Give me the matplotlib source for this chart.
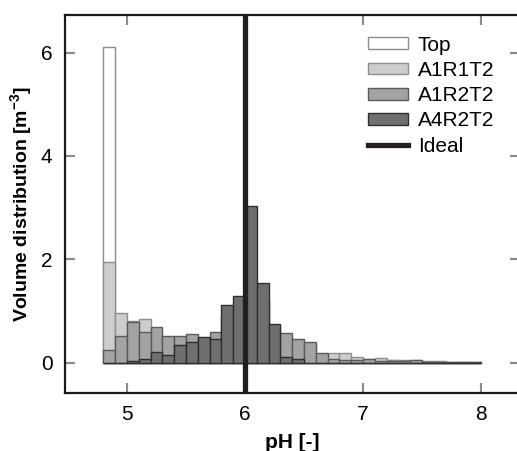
import numpy as np
import matplotlib
matplotlib.use('Agg')
import matplotlib.pyplot as plt

plt.rcParams['font.family'] = ['Liberation Sans', 'DejaVu Sans']
plt.rcParams['mathtext.fontset'] = 'custom'
plt.rcParams['mathtext.bf'] = 'Liberation Sans:bold'
plt.rcParams['mathtext.rm'] = 'Liberation Sans'

# histogram bins (pH), width 0.1 from 4.8 to 8.0
bin_start = 4.8
bin_width = 0.1
n_bins = 32

# volume distribution per bin
top = [6.11, 0.30, 0.22, 0.18, 0.15, 0.12, 0.12, 0.12, 0.12, 0.14, 0.16, 0.20,
       0.25, 0.18, 0.14, 0.12, 0.10, 0.08, 0.07, 0.06, 0.06, 0.06, 0.05, 0.05,
       0.05, 0.05, 0.04, 0.03, 0.02, 0.01, 0.01, 0.01]
a1r1t2 = [1.94, 0.96, 0.81, 0.85, 0.60, 0.45, 0.45, 0.45, 0.40, 0.50, 0.60, 0.70,
          0.90, 0.80, 0.60, 0.50, 0.40, 0.35, 0.15, 0.18, 0.19, 0.11, 0.06, 0.09,
          0.04, 0.03, 0.03, 0.01, 0.005, 0.005, 0.005, 0.005]
a1r2t2 = [0.24, 0.51, 0.78, 0.60, 0.69, 0.52, 0.51, 0.55, 0.45, 0.60, 0.90, 1.00,
          1.50, 1.20, 0.70, 0.58, 0.45, 0.40, 0.18, 0.07, 0.05, 0.04, 0.07, 0.03,
          0.02, 0.02, 0.04, 0.01, 0.005, 0.005, 0.005, 0.005]
a4r2t2 = [0.0, 0.0, 0.03, 0.07, 0.20, 0.15, 0.34, 0.39, 0.49, 0.46, 1.12, 1.28,
          3.03, 1.54, 0.75, 0.10, 0.07, 0.0, 0.0, 0.0, 0.0, 0.0, 0.0, 0.0,
          0.0, 0.0, 0.0, 0.0, 0.0, 0.0, 0.0, 0.0]
ideal_ph = 6.0

series = [('Top', top, 'white', '#8c8c8c'),
          ('A1R1T2', a1r1t2, '#cdcdcd', '#8e8e8e'),
          ('A1R2T2', a1r2t2, '#a3a3a3', '#5a5a5a'),
          ('A4R2T2', a4r2t2, '#6f6f6f', '#2e2e2e')]

edges = bin_start + bin_width * np.arange(n_bins)

fig = plt.figure(figsize=(5.17, 4.51), dpi=100)
ax = fig.add_axes([0.1257, 0.1275, 0.88, 0.8392])

handles = []
for name, vals, fc, ec in series:
    b = ax.bar(edges, vals, width=bin_width, align='edge', color=fc,
               edgecolor=ec, linewidth=1.0, label=name)
    handles.append(b)

line = ax.axvline(ideal_ph, color='#231f20', linewidth=3.8, label='Ideal', zorder=5)
handles.append(line)

ax.set_xlim(4.475, 8.33)
ax.set_ylim(-0.6, 6.73)
ax.set_xticks([5, 6, 7, 8])
ax.set_yticks([0, 2, 4, 6])

ax.tick_params(direction='in', length=7, width=1.5, color='#8a8a8a',
               labelsize=15, top=True, right=True)
ax.tick_params(axis='y', pad=9)
ax.tick_params(axis='x', pad=8)

for side in ['left', 'bottom', 'top', 'right']:
    ax.spines[side].set_linewidth(1.6)
    ax.spines[side].set_color('#1a1a1a')

ax.set_xlabel('pH [-]', fontsize=15, fontweight='bold', labelpad=7)
ax.set_ylabel(r'Volume distribution [m$^{\mathbf{-3}}$]', fontsize=14,
              fontweight='bold', labelpad=4)

ax.legend(handles=handles, loc='upper right', frameon=False, fontsize=15,
          handlelength=1.95, handleheight=0.5, labelspacing=0.3,
          handletextpad=0.45, bbox_to_anchor=(0.985, 0.995))

fig.savefig('out.png', dpi=100)
